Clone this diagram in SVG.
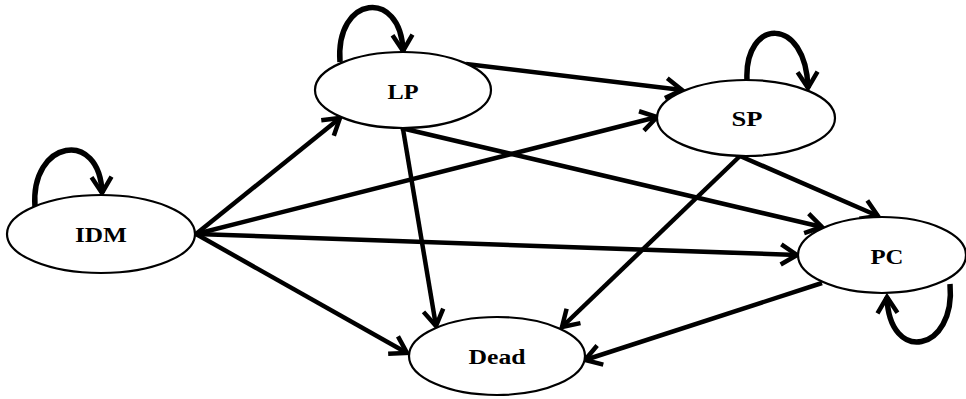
<svg xmlns="http://www.w3.org/2000/svg" width="966" height="399" viewBox="0 0 966 399">
  <style>
    .node ellipse { fill: #ffffff; stroke: #000000; stroke-width: 2.2; }
    .node text { font-family: "Liberation Serif", "Times New Roman", serif; font-weight: bold; font-size: 20px; fill: #000000; text-anchor: middle; }
    .edge { fill: none; stroke: #000000; stroke-width: 4.5; marker-end: url(#arrow); }
    .loop { fill: none; stroke: #000000; stroke-width: 5.5; marker-end: url(#arrow); }
  </style>
  <defs>
    <marker id="arrow" markerUnits="userSpaceOnUse" markerWidth="40" markerHeight="40" refX="0" refY="0" viewBox="-20 -20 40 40" orient="auto" overflow="visible">
      <path d="M-16,-10 L0,0 L-16,10" fill="none" stroke="#000000" stroke-width="4.5" stroke-linejoin="miter"/>
    </marker>
  </defs>
  <rect width="966" height="399" fill="#ffffff"/>

  <!-- connectors -->
  <g id="connectors">
    <!-- self loops -->
    <path class="loop" d="M35,207 C30,140 100,128 102,193"/>
    <path class="loop" d="M340,62 C335,-5 401,-12 403,51"/>
    <path class="loop" d="M747,80 C744,18 806,15 808,88"/>
    <path class="loop" d="M950,284 C956,352 889,365 887,297"/>
    <!-- from IDM -->
    <path class="edge" d="M196,234 L340,118"/>
    <path class="edge" d="M196,234 L657,117"/>
    <path class="edge" d="M196,234 L797,255"/>
    <path class="edge" d="M196,234 L407,353"/>
    <!-- from LP -->
    <path class="edge" d="M466,64 L682,90"/>
    <path class="edge" d="M401,128 L822,227"/>
    <path class="edge" d="M403,129 L436,326"/>
    <!-- from SP -->
    <path class="edge" d="M740,156 L562,327"/>
    <path class="edge" d="M740,156 L878,216"/>
    <!-- from PC -->
    <path class="edge" d="M822,283 L585,360"/>
  </g>

  <!-- nodes -->
  <g id="IDM" class="node">
    <ellipse cx="101" cy="234" rx="94" ry="39"/>
    <text x="101" y="242" textLength="52" lengthAdjust="spacingAndGlyphs">IDM</text>
  </g>
  <g id="LP" class="node">
    <ellipse cx="403" cy="90" rx="88" ry="38"/>
    <text x="403" y="99" textLength="31" lengthAdjust="spacingAndGlyphs">LP</text>
  </g>
  <g id="SP" class="node">
    <ellipse cx="746" cy="118" rx="89" ry="38"/>
    <text x="747" y="126" textLength="31" lengthAdjust="spacingAndGlyphs">SP</text>
  </g>
  <g id="PC" class="node">
    <ellipse cx="882" cy="255" rx="84" ry="38"/>
    <text x="887" y="264" textLength="33" lengthAdjust="spacingAndGlyphs">PC</text>
  </g>
  <g id="Dead" class="node">
    <ellipse cx="497" cy="356" rx="88" ry="39"/>
    <text x="497" y="364" textLength="57" lengthAdjust="spacingAndGlyphs">Dead</text>
  </g>
</svg>
